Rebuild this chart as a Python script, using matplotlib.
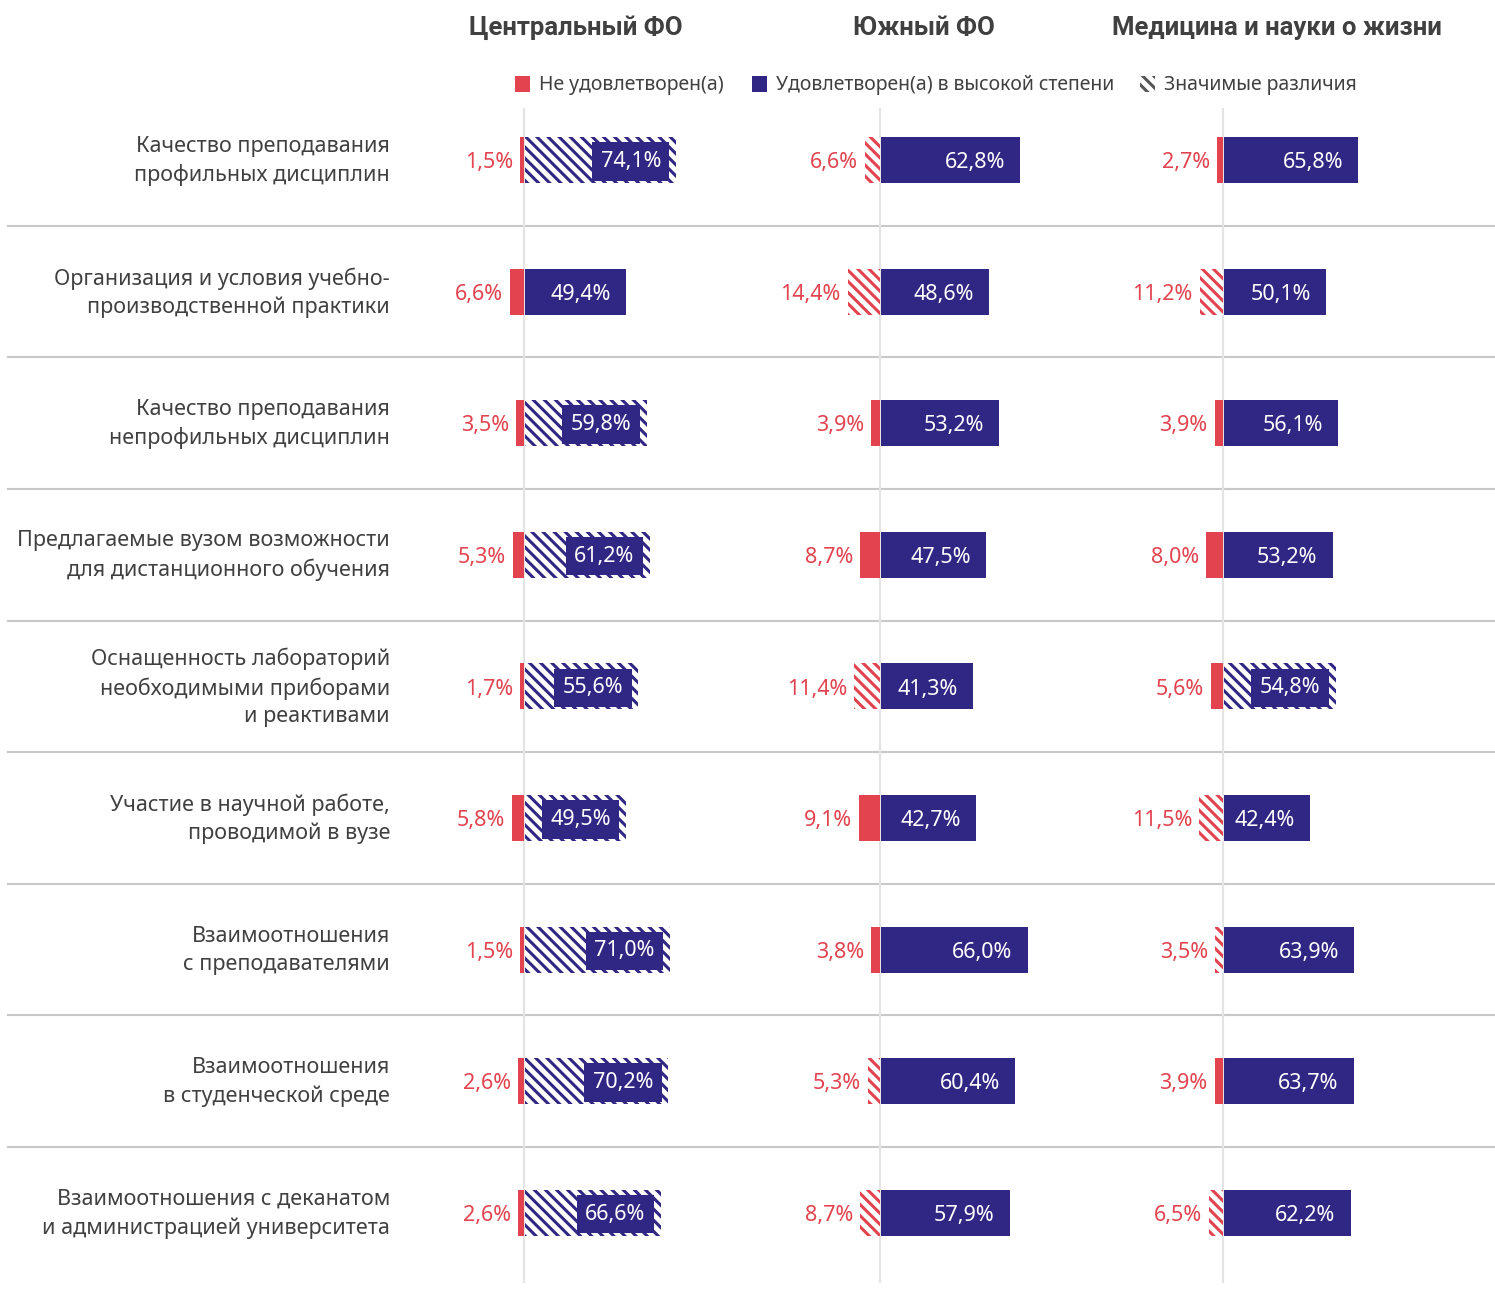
import matplotlib.pyplot as plt
from matplotlib.patches import Rectangle

plt.rcParams['font.family'] = ['Noto Sans', 'DejaVu Sans']
plt.rcParams['hatch.linewidth'] = 2.2

RED = '#e2434f'
NAVY = '#302683'
GRAY_TXT = '#404040'

rows = [
    "Качество преподавания\nпрофильных дисциплин",
    "Организация и условия учебно-\nпроизводственной практики",
    "Качество преподавания\nнепрофильных дисциплин",
    "Предлагаемые вузом возможности\nдля дистанционного обучения",
    "Оснащенность лабораторий\nнеобходимыми приборами\nи реактивами",
    "Участие в научной работе,\nпроводимой в вузе",
    "Взаимоотношения\nс преподавателями",
    "Взаимоотношения\nв студенческой среде",
    "Взаимоотношения с деканатом\nи администрацией университета",
]

groups = ["Центральный ФО", "Южный ФО", "Медицина и науки о жизни"]

# не удовлетворен(а)
central_neg = [1.5, 6.6, 3.5, 5.3, 1.7, 5.8, 1.5, 2.6, 2.6]
south_neg = [6.6, 14.4, 3.9, 8.7, 11.4, 9.1, 3.8, 5.3, 8.7]
med_neg = [2.7, 11.2, 3.9, 8.0, 5.6, 11.5, 3.5, 3.9, 6.5]

# удовлетворен(а) в высокой степени
central_pos = [74.1, 49.4, 59.8, 61.2, 55.6, 49.5, 71.0, 70.2, 66.6]
south_pos = [62.8, 48.6, 53.2, 47.5, 41.3, 42.7, 66.0, 60.4, 57.9]
med_pos = [65.8, 50.1, 56.1, 53.2, 54.8, 42.4, 63.9, 63.7, 62.2]

# значимые различия (штриховка)
central_neg_sig = [False] * 9
central_pos_sig = [True, False, True, True, True, True, True, True, True]
south_neg_sig = [True, True, False, False, True, False, False, True, True]
south_pos_sig = [False] * 9
med_neg_sig = [False, True, False, False, False, True, True, False, True]
med_pos_sig = [False, False, False, False, True, False, False, False, False]

panels = [
    (central_neg, central_pos, central_neg_sig, central_pos_sig),
    (south_neg, south_pos, south_neg_sig, south_pos_sig),
    (med_neg, med_pos, med_neg_sig, med_pos_sig),
]

W, H = 1495, 1291
fig = plt.figure(figsize=(W / 100, H / 100), dpi=100)

# фоновая ось в пикселях: подписи строк, разделители, заголовки, легенда
bg = fig.add_axes([0, 0, 1, 1])
bg.set_xlim(0, W)
bg.set_ylim(H, 0)
bg.axis('off')

row0, step = 160, 131.6
for i, lab in enumerate(rows):
    bg.text(390, row0 + step * i + 1, lab, ha='right', va='center', fontsize=15.5,
            color=GRAY_TXT, linespacing=1.42)
for i in range(len(rows) - 1):
    y = row0 + step * (i + 0.5)
    bg.plot([8, W], [y, y], color='#c8c8c8', lw=1.5)

zeros = [524, 880, 1223]
scales = [2.04, 2.22, 2.04]
title_x = [576, 924, 1277]
for g, x in zip(groups, title_x):
    bg.text(x, 28, g, ha='center', va='center', fontsize=18.5, fontweight='bold',
            family=['Roboto', 'DejaVu Sans'], color=GRAY_TXT)

# легенда
leg = [(515, RED, None, "Не удовлетворен(а)"),
       (752, NAVY, None, "Удовлетворен(а) в высокой степени"),
       (1140, 'white', '#555555', "Значимые различия")]
for x, fc, hc, txt in leg:
    if hc is None:
        bg.add_patch(Rectangle((x, 76), 15, 16, facecolor=fc, lw=0))
    else:
        bg.add_patch(Rectangle((x, 76), 15, 16, facecolor='white', edgecolor=hc,
                               hatch='\\\\\\', lw=0))
    bg.text(x + 24, 85, txt, ha='left', va='center', fontsize=14, color=GRAY_TXT)

y_top, y_bot = 108, 1283
n = len(rows)
ylim_top = (y_top - row0) / step
ylim_bot = (y_bot - row0) / step
bar_h = 46 / step
xmin, xmax = -30, 80


def fmt(v):
    return f"{v:.1f}".replace('.', ',') + '%'


for (neg, pos, neg_sig, pos_sig), z, s in zip(panels, zeros, scales):
    left = z + xmin * s
    width = (xmax - xmin) * s
    ax = fig.add_axes([left / W, 1 - y_bot / H, width / W, (y_bot - y_top) / H])
    ax.set_xlim(xmin, xmax)
    ax.set_ylim(ylim_bot, ylim_top)
    ax.axis('off')
    ax.patch.set_alpha(0)
    ax.axvline(0, color='#e4e4e4', lw=1.6, zorder=0)

    gap = 1.0 / s
    for i in range(n):
        # красный столбик влево
        if neg_sig[i]:
            ax.barh(i, -neg[i], left=-gap * 0.5, height=bar_h, color='white',
                    edgecolor=RED, hatch='\\\\\\', lw=0, zorder=2)
        else:
            ax.barh(i, -neg[i], left=-gap * 0.5, height=bar_h, color=RED, lw=0, zorder=2)
        ax.annotate(fmt(neg[i]), xy=(-neg[i] - gap * 0.5, i), xytext=(-5, -2),
                    textcoords='offset points', ha='right', va='center',
                    fontsize=15.5, color=RED)

        # синий столбик вправо
        if pos_sig[i]:
            ax.barh(i, pos[i], left=gap, height=bar_h, color='white',
                    edgecolor=NAVY, hatch='\\\\\\', lw=0, zorder=2)
            ax.annotate(fmt(pos[i]), xy=(pos[i] + gap, i), xytext=(-11, -1),
                        textcoords='offset points', ha='right', va='center',
                        fontsize=15.5, color='white', zorder=3,
                        bbox=dict(boxstyle='square,pad=0.4', fc=NAVY, ec='none'))
        else:
            ax.barh(i, pos[i], left=gap, height=bar_h, color=NAVY, lw=0, zorder=2)
            ax.annotate(fmt(pos[i]), xy=(pos[i] + gap, i), xytext=(-11, -2),
                        textcoords='offset points', ha='right', va='center',
                        fontsize=15.5, color='white', zorder=3)

fig.savefig('out.png', dpi=100)
